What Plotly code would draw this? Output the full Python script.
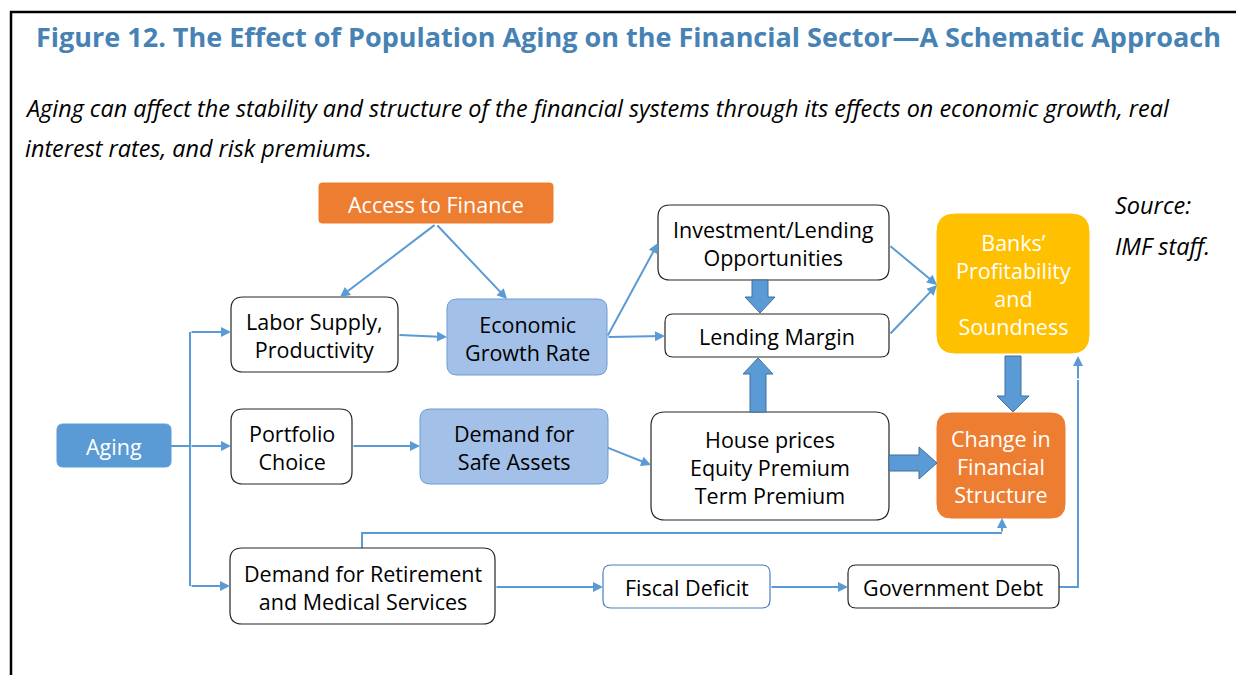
import plotly.graph_objects as go

# ---------------- content (text) ----------------
title_text = "Figure 12. The Effect of Population Aging on the Financial Sector\u2014A Schematic Approach"
subtitle_lines = [
    "Aging can affect the stability and structure of the financial systems through its effects on economic growth, real",
    "interest rates, and risk premiums.",
]
source_lines = ["Source:", "IMF staff."]

node_ids = ["access", "labor", "growth", "invest", "margin", "banks", "aging",
            "portfolio", "safe", "house", "change", "retire", "fiscal", "debt"]
node_labels = [
    "Access to Finance",
    "Labor Supply,<br>Productivity",
    "Economic<br>Growth Rate",
    "Investment/Lending<br>Opportunities",
    "Lending Margin",
    "Banks\u2019<br>Profitability<br>and<br>Soundness",
    "Aging",
    "Portfolio<br>Choice",
    "Demand for<br>Safe Assets",
    "House prices<br>Equity Premium<br>Term Premium",
    "Change in<br>Financial<br>Structure",
    "Demand for Retirement<br>and Medical Services",
    "Fiscal Deficit",
    "Government Debt",
]
node_kind = ["orange", "white", "lightblue", "white", "white", "gold", "blue",
             "white", "lightblue", "white", "orange", "white", "bluewhite", "white"]

# ---------------- geometry (pixels, y downward) ----------------
boxes = {
    "access":    (319, 183, 553, 223, 3),
    "labor":     (231, 297, 398, 372, 12),
    "growth":    (447, 299, 607, 375, 10),
    "invest":    (658, 205, 889, 280, 12),
    "margin":    (665, 314, 889, 357, 8),
    "banks":     (937, 214, 1089, 353, 18),
    "aging":     (57, 424, 171, 467, 6),
    "portfolio": (231, 409, 352, 484, 12),
    "safe":      (420, 409, 608, 484, 10),
    "house":     (651, 412, 889, 520, 14),
    "change":    (937, 413, 1065, 518, 14),
    "retire":    (230, 548, 495, 624, 12),
    "fiscal":    (603, 565, 770, 608, 8),
    "debt":      (848, 565, 1059, 608, 8),
}
styles = {
    "orange":    dict(fill="#ED7D31", line="#ED7D31", font="white", lw=1),
    "gold":      dict(fill="#FFC000", line="#FFC000", font="white", lw=1),
    "blue":      dict(fill="#5B9BD5", line="#5B9BD5", font="white", lw=1),
    "lightblue": dict(fill="#A3C1E8", line="#6A9BD3", font="black", lw=1),
    "white":     dict(fill="white", line="#262626", font="black", lw=1.2),
    "bluewhite": dict(fill="white", line="#4A7EBB", font="black", lw=1.2),
}

LINE = "#5B9BD5"
BLOCK_FILL = "#5B9BD5"
BLOCK_EDGE = "#41719C"
FONT = "Open Sans"
BOX_FONT_SIZE = 21.5
OFF = 8  # browser body margin


def rrect(x0, y0, x1, y1, r):
    return (f"M {x0+r},{y0} L {x1-r},{y0} Q {x1},{y0} {x1},{y0+r} "
            f"L {x1},{y1-r} Q {x1},{y1} {x1-r},{y1} L {x0+r},{y1} "
            f"Q {x0},{y1} {x0},{y1-r} L {x0},{y0+r} Q {x0},{y0} {x0+r},{y0} Z")


def block_arrow(tail, tip, shaft_w, head_w, head_len):
    (tx, ty), (px, py) = tail, tip
    dx, dy = px - tx, py - ty
    L = (dx * dx + dy * dy) ** 0.5
    ux, uy = dx / L, dy / L
    nx, ny = -uy, ux
    bx, by = px - ux * head_len, py - uy * head_len
    pts = [
        (tx + nx * shaft_w / 2, ty + ny * shaft_w / 2),
        (bx + nx * shaft_w / 2, by + ny * shaft_w / 2),
        (bx + nx * head_w / 2, by + ny * head_w / 2),
        (px, py),
        (bx - nx * head_w / 2, by - ny * head_w / 2),
        (bx - nx * shaft_w / 2, by - ny * shaft_w / 2),
        (tx - nx * shaft_w / 2, ty - ny * shaft_w / 2),
    ]
    return "M " + " L ".join(f"{x:.1f},{y:.1f}" for x, y in pts) + " Z"


fig = go.Figure()
shapes = []
annotations = []

# frame
shapes.append(dict(type="path", path="M 11,680 L 11,12 L 1250,12",
                   line=dict(color="black", width=2.5), layer="above"))

# thin connector polylines (without last segment) + arrow segments
polylines = [
    [(171, 446), (190, 446)],
    [(190, 332), (190, 586)],
    [(362, 548), (362, 533), (1002, 533)],
    [(1059, 587), (1078, 587), (1078, 380)],
]
for pl in polylines:
    path = "M " + " L ".join(f"{x},{y}" for x, y in pl)
    shapes.append(dict(type="path", path=path, line=dict(color=LINE, width=2)))

arrows = [  # (tail, head)
    ((190, 332), (231, 332)),
    ((190, 446), (231, 446)),
    ((190, 586), (230, 586)),
    ((436, 224), (340, 297)),
    ((436, 224), (507, 299)),
    ((398, 335), (447, 337)),
    ((607, 337), (658, 243)),
    ((607, 337), (665, 336)),
    ((352, 446), (420, 446)),
    ((606, 447), (651, 465)),
    ((889, 245), (937, 285)),
    ((889, 335), (937, 285)),
    ((1002, 533), (1002, 518)),
    ((495, 587), (603, 587)),
    ((770, 587), (848, 587)),
    ((1078, 380), (1078, 356)),
]
for (t, h) in arrows:
    annotations.append(dict(x=h[0], y=h[1], ax=t[0], ay=t[1], xref="x", yref="y",
                            axref="x", ayref="y", text="", showarrow=True,
                            arrowhead=2, arrowsize=1.0, arrowwidth=2,
                            arrowcolor=LINE, standoff=0, startstandoff=0))

# boxes
for nid, label, kind in zip(node_ids, node_labels, node_kind):
    x0, y0, x1, y1, r = boxes[nid]
    st = styles[kind]
    shapes.append(dict(type="path", path=rrect(x0, y0, x1, y1, r),
                       fillcolor=st["fill"], line=dict(color=st["line"], width=st["lw"])))
    annotations.append(dict(x=(x0 + x1) / 2, y=(y0 + y1) / 2 + 1, xref="x", yref="y",
                            text=label, showarrow=False,
                            font=dict(family=FONT, size=BOX_FONT_SIZE, color=st["font"])))

# thick block arrows
blocks = [
    ((760, 280), (760, 313), 16, 30, 16),
    ((758, 412), (758, 358), 16, 30, 16),
    ((889, 463), (937, 463), 16, 32, 18),
    ((1013, 356), (1013, 412), 16, 32, 16),
]
for tail, tip, sw, hw, hl in blocks:
    shapes.append(dict(type="path", path=block_arrow(tail, tip, sw, hw, hl),
                       fillcolor=BLOCK_FILL, line=dict(color=BLOCK_EDGE, width=1)))

# title and texts
annotations.append(dict(x=628.5, y=36, xref="x", yref="y", text="<b>" + title_text + "</b>",
                        showarrow=False, xanchor="center",
                        font=dict(family=FONT, size=27, color="#4682B4")))
for i, line in enumerate(subtitle_lines):
    annotations.append(dict(x=23, y=108 + 40 * i, xref="x", yref="y",
                            text="<i>" + line + "</i>", showarrow=False, xanchor="left",
                            font=dict(family=FONT, size=23.4, color="black")))
for i, line in enumerate(source_lines):
    annotations.append(dict(x=1113, y=205 + 41 * i, xref="x", yref="y",
                            text="<i>" + line + "</i>", showarrow=False, xanchor="left",
                            font=dict(family=FONT, size=23.5, color="black")))

fig.update_layout(
    width=1244 - OFF, height=675 - OFF,
    margin=dict(l=0, r=0, t=0, b=0),
    paper_bgcolor="white", plot_bgcolor="white",
    xaxis=dict(range=[OFF, 1244], visible=False, fixedrange=True),
    yaxis=dict(range=[675, OFF], visible=False, fixedrange=True),
    shapes=shapes, annotations=annotations, showlegend=False,
)
fig.write_html("out.html")
